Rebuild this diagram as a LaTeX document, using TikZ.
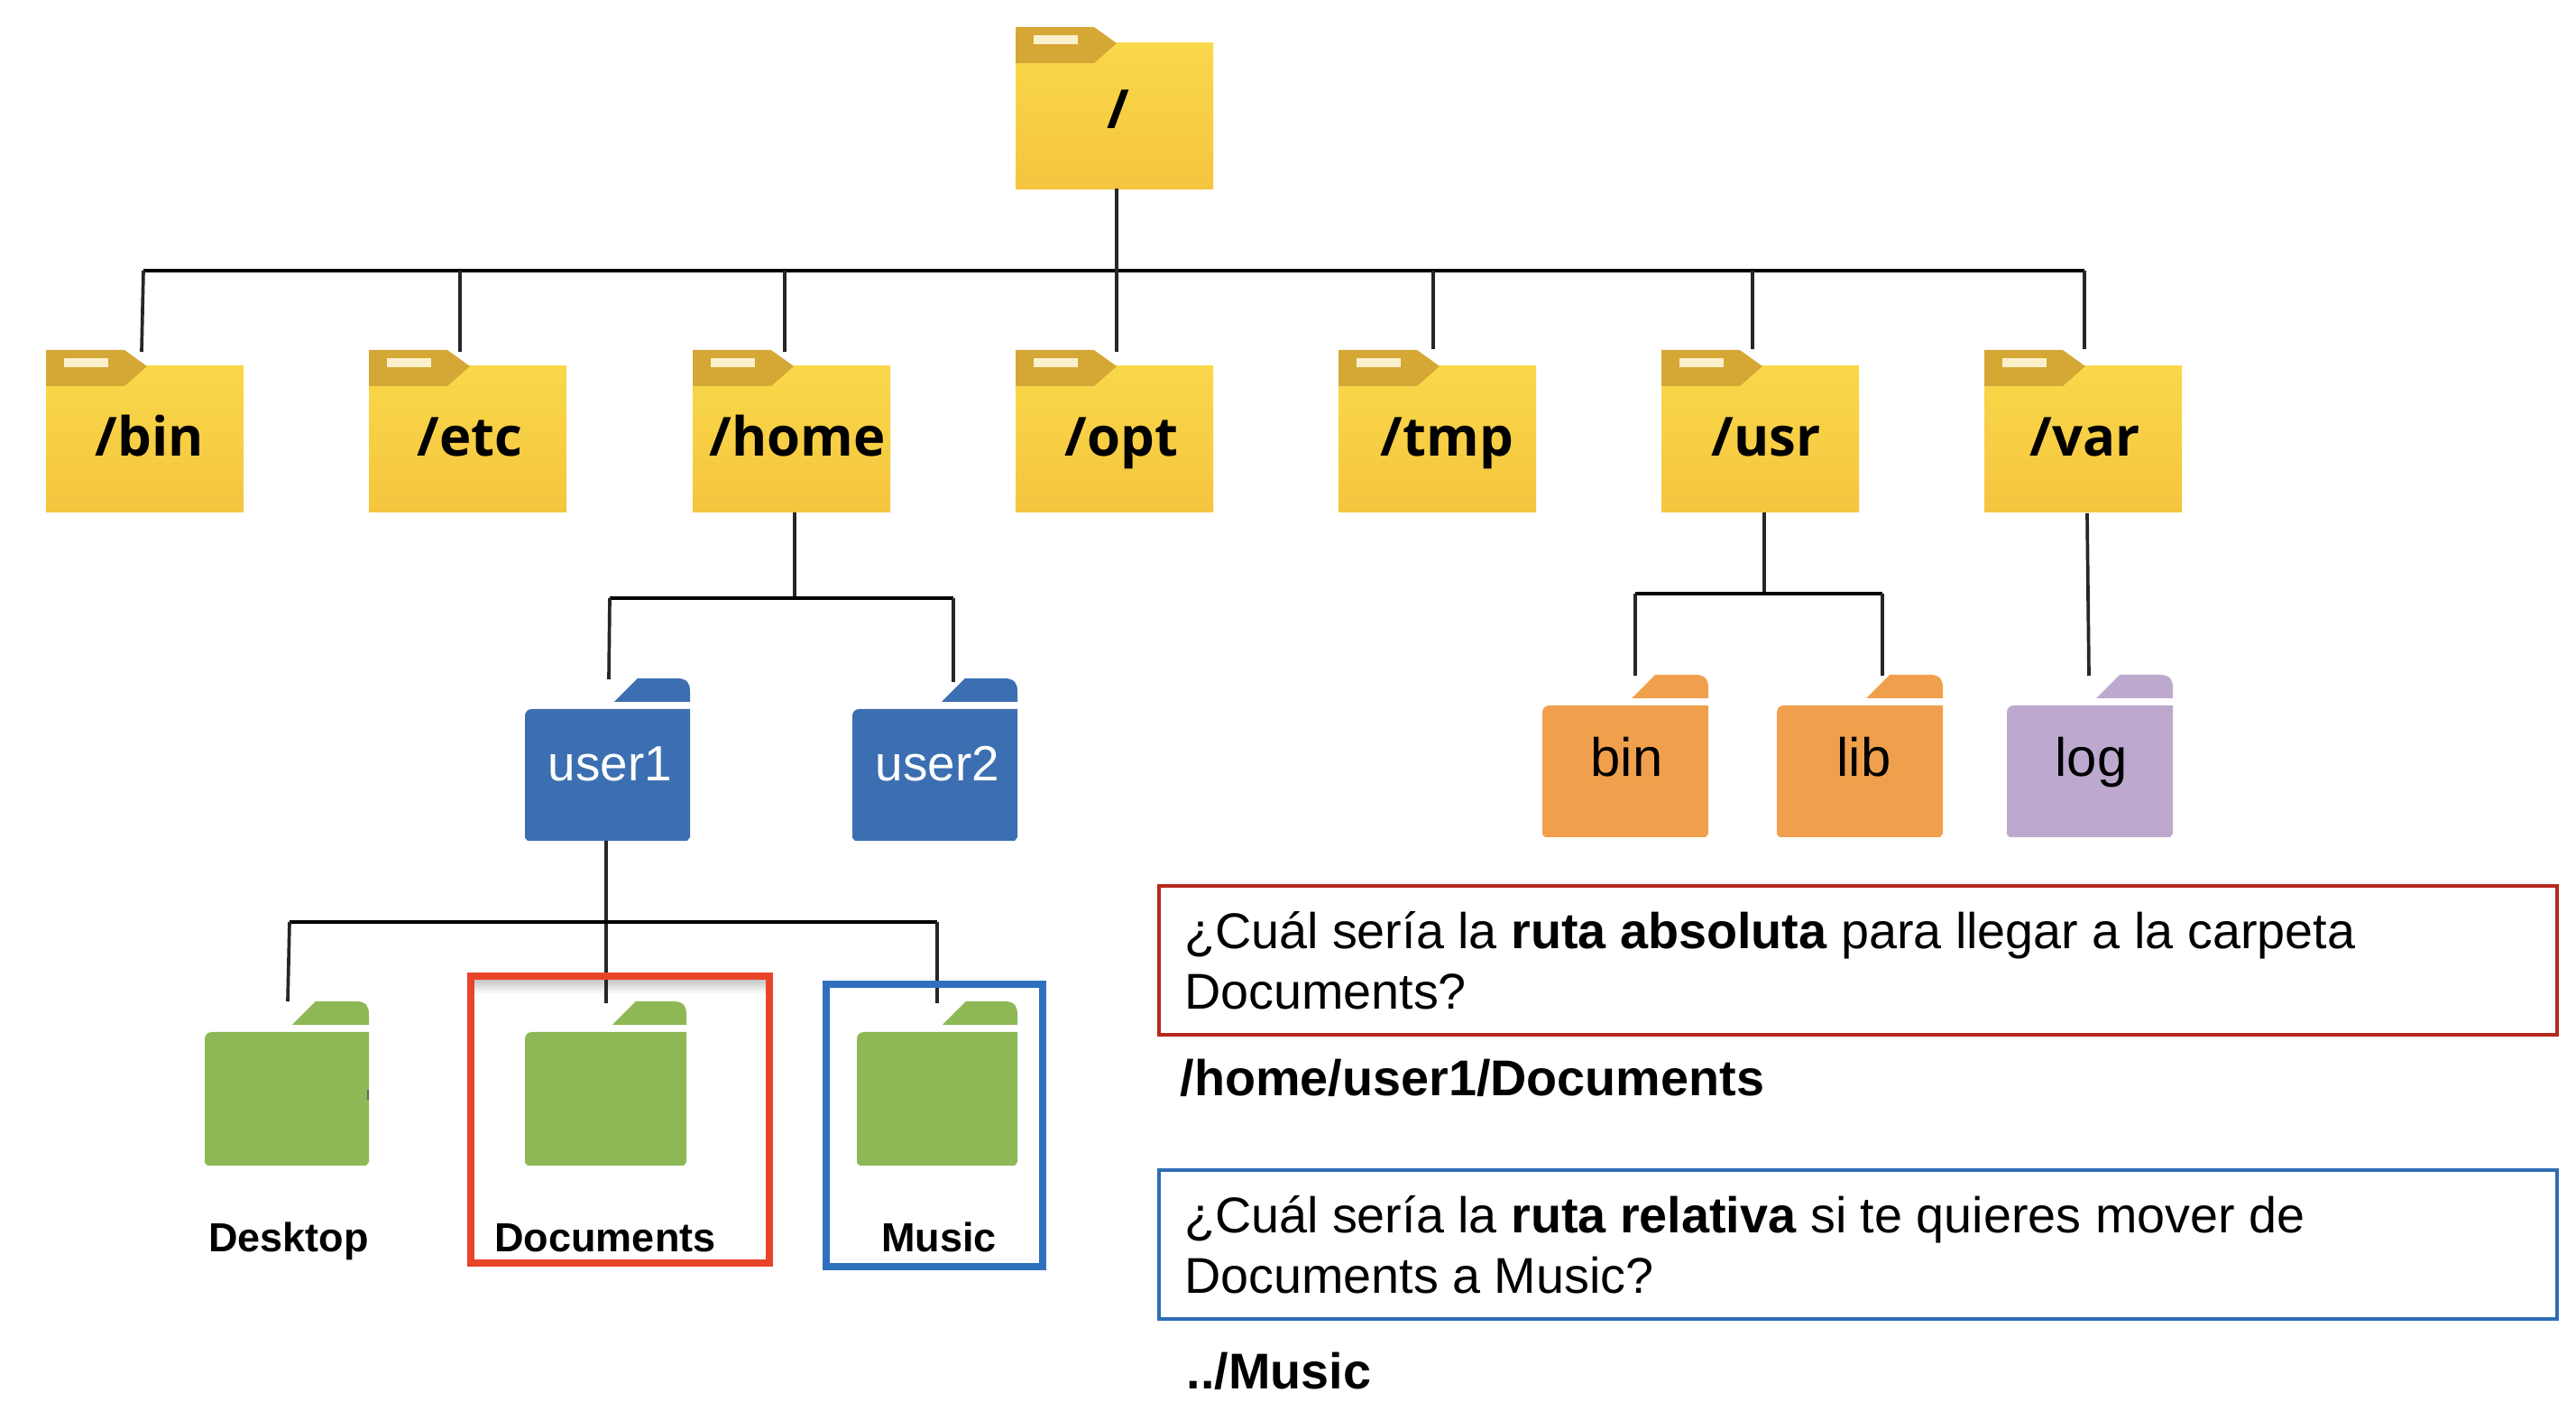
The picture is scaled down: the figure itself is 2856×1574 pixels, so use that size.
\documentclass[tikz,border=0pt]{standalone}
\usepackage{fontspec}
\setmainfont{Liberation Sans}
\newfontfamily\folderfont{Open Sans}
\definecolor{yTop}{HTML}{F9D849}
\definecolor{yBot}{HTML}{F5C53F}
\definecolor{yTab}{HTML}{D5A735}
\definecolor{ySlot}{HTML}{FBF0CC}
\definecolor{fBlue}{HTML}{3C6FB1}
\definecolor{fOrange}{HTML}{F0A04C}
\definecolor{fPurple}{HTML}{BDA9CE}
\definecolor{fGreen}{HTML}{8DB855}
\definecolor{hiRed}{HTML}{E8442A}
\definecolor{hiBlue}{HTML}{2F70BE}
\definecolor{boxRed}{HTML}{B5281C}
\definecolor{boxBlue}{HTML}{2F6DB6}
\newcommand{\qtight}{\spaceskip 4.4pt\relax\xspaceskip 4.4pt\relax}
\tikzset{
  x=0.01cm,y=-0.01cm,
  bus/.style={line width=1.4pt,black},
  link/.style={line width=1.05pt,black!85},
  hibox/.style={line width=2.2pt},
  qbox/.style={draw,line width=1pt,rectangle,outer sep=0pt,inner xsep=0.28cm,inner ysep=0pt,anchor=north west,
    minimum width=15.49cm,minimum height=1.65cm,text width=14.93cm,align=left,
    font=\fontsize{15.85}{19}\selectfont},
  answer/.style={anchor=base west,inner sep=0pt,font=\fontsize{15.85}{19}\selectfont\bfseries},
  ylabel/.style={anchor=base west,inner sep=0pt,font=\fontsize{17}{20}\selectfont\folderfont\bfseries},
  clabel/.style={anchor=base west,inner sep=0pt,font=\fontsize{17}{20}\selectfont},
  ulabel/.style={anchor=base west,inner sep=0pt,text=white,font=\fontsize{15.6}{20}\selectfont},
  glabel/.style={anchor=base,inner sep=0pt,font=\fontsize{12.8}{16}\selectfont\bfseries},
  geom/.style={inner sep=0pt,outer sep=0pt,anchor=north west},
}
% name, x, y
\newcommand{\yfolder}[3]{%
  \begin{scope}[shift={(#2,#3)}]
    \node[geom,minimum width=2.19cm,minimum height=1.61cm,top color=yTop,bottom color=yBot] (#1) at (0,18) {};
    \fill[yTab] (0,0) -- (87,0) -- (112,18) -- (87,40) -- (0,40) -- cycle;
    \fill[ySlot] (20,9) rectangle (69,19);
  \end{scope}}
% name, x, y, w, h, tab start, colour
\newcommand{\cfolder}[7]{%
  \begin{scope}[shift={(#2,#3)}]
    \node[geom,minimum width=#4*0.01cm,minimum height=(#5-34)*0.01cm] (#1) at (0,34) {};
    \fill[#7] (#6,26) -- (#6+26,0) -- (#4-14,0) .. controls (#4-3,0) and (#4,6) .. (#4,14) -- (#4,26) -- cycle;
    \fill[#7] (0,42) .. controls (0,37) and (3,34) .. (8,34) -- (#4,34) -- (#4,#5-4) -- (#4-3,#5) -- (3,#5) -- (0,#5-3) -- cycle;
  \end{scope}}
\begin{document}
\begin{tikzpicture}
\useasboundingbox (0,0) rectangle (2856,1574);
\fill[white] (0,0) rectangle (2856,1574);

\yfolder{root}{1126}{30}
\yfolder{bin}{51}{388}
\yfolder{etc}{409}{388}
\yfolder{home}{768}{388}
\yfolder{opt}{1126}{388}
\yfolder{tmp}{1484}{388}
\yfolder{usr}{1842}{388}
\yfolder{var}{2200}{388}
\cfolder{user1}{582}{752}{183}{180}{99}{fBlue}
\cfolder{user2}{945}{752}{183}{180}{99}{fBlue}
\cfolder{ubin}{1710}{748}{184}{180}{99}{fOrange}
\cfolder{ulib}{1970}{748}{184}{180}{99}{fOrange}
\cfolder{ulog}{2225}{748}{184}{180}{99}{fPurple}
\cfolder{desktop}{227}{1110}{182}{182}{97}{fGreen}
\cfolder{documents}{582}{1110}{179}{182}{97}{fGreen}
\cfolder{music}{950}{1110}{178}{182}{95}{fGreen}
\fill[black!60] (407,1208) rectangle (409,1219);

% shadow inside the red frame
\shade[top color=black!22,bottom color=white] (526,1086) rectangle (849,1102);

% connector ends
\coordinate (rootOut) at (1238,209);
\coordinate (rootIn) at (1238,390);
\coordinate (busL) at (159,300);
\coordinate (busR) at (2311,300);
\coordinate (binIn) at (157,390);
\coordinate (etcT) at (510,300); \coordinate (etcIn) at (510,390);
\coordinate (homeT) at (870,300); \coordinate (homeIn) at (870,390);
\coordinate (tmpT) at (1589,300); \coordinate (tmpIn) at (1589,387);
\coordinate (usrT) at (1943,300); \coordinate (usrIn) at (1943,387);
\coordinate (varIn) at (2311,387);
\coordinate (homeOut) at (881,568); \coordinate (homeJ) at (881,663);
\coordinate (homeL) at (676,663); \coordinate (homeR) at (1057,663);
\coordinate (u1In) at (675,753); \coordinate (u2In) at (1057,756);
\coordinate (usrOut) at (1956,568); \coordinate (usrJ) at (1956,658);
\coordinate (usrL) at (1813,658); \coordinate (usrR) at (2087,658);
\coordinate (ubinIn) at (1813,749); \coordinate (ulibIn) at (2087,749);
\coordinate (varOut) at (2314,569); \coordinate (logIn) at (2316,749);
\coordinate (u1Out) at (672,932); \coordinate (u1J) at (672,1022);
\coordinate (docIn) at (672,1112);
\coordinate (dL) at (321,1022); \coordinate (dR) at (1039,1022);
\coordinate (deskIn) at (319,1110); \coordinate (musIn) at (1039,1112);

\draw[bus] (busL) -- (busR);
\draw[link] (rootOut) -- (rootIn);
\draw[link] (busL) -- (binIn);
\draw[link] (etcT) -- (etcIn);
\draw[link] (homeT) -- (homeIn);
\draw[link] (tmpT) -- (tmpIn);
\draw[link] (usrT) -- (usrIn);
\draw[link] (busR) -- (varIn);
\draw[link] (homeOut) -- (homeJ);
\draw[bus] (homeL) -- (homeR);
\draw[link] (homeL) -- (u1In);
\draw[link] (homeR) -- (u2In);
\draw[link] (usrOut) -- (usrJ);
\draw[bus] (usrL) -- (usrR);
\draw[link] (usrL) -- (ubinIn);
\draw[link] (usrR) -- (ulibIn);
\draw[link] (varOut) -- (logIn);
\draw[link] (u1Out) -- (docIn);
\draw[bus] (dL) -- (dR);
\draw[link] (dL) -- (deskIn);
\draw[link] (dR) -- (musIn);

% folder labels
\node[ylabel] (lroot) at (1227,143) {/};
\node[ylabel] (lbin) at (105,506) {/bin};
\node[ylabel] (letc) at (462,506) {/etc};
\node[ylabel] (lhome) at (786,506) {/home};
\node[ylabel] (lopt) at (1180,506) {/opt};
\node[ylabel] (ltmp) at (1530,506) {/tmp};
\node[ylabel] (lusr) at (1897,506) {/usr};
\node[ylabel] (lvar) at (2250,506) {/var};
\node[ulabel] (lu1) at (607,866) {user1};
\node[ulabel] (lu2) at (970,866) {user2};
\node[clabel] (lb) at (1763,861) {bin};
\node[clabel] (ll) at (2036,861) {lib};
\node[clabel] (lg) at (2278,861) {log};
\node[glabel] (ldesk) at (320,1388) {Desktop};
\node[glabel] (ldoc) at (671,1388) {Documents};
\node[glabel] (lmus) at (1041,1388) {Music};

% highlight frames
\node[geom,draw=hiRed,hibox,minimum width=3.31cm,minimum height=3.18cm] (frameRed) at (522,1082) {};
\node[geom,draw=hiBlue,hibox,minimum width=2.40cm,minimum height=3.13cm] (frameBlue) at (916,1091) {};

% questions
\node[qbox,draw=boxRed] (q1) at (1285,982) {\qtight ¿Cuál sería la \textbf{ruta absoluta} para llegar a la carpeta\\Documents?\par\vspace{0.04cm}};
\node[answer] (a1) at (1308,1215) {/home/user1/Documents};
\node[qbox,draw=boxBlue] (q2) at (1285,1297) {\qtight ¿Cuál sería la \textbf{ruta relativa} si te quieres mover de\\Documents a Music?\par\vspace{0.04cm}};
\node[answer] (a2) at (1315,1540) {../Music};
\end{tikzpicture}
\end{document}
